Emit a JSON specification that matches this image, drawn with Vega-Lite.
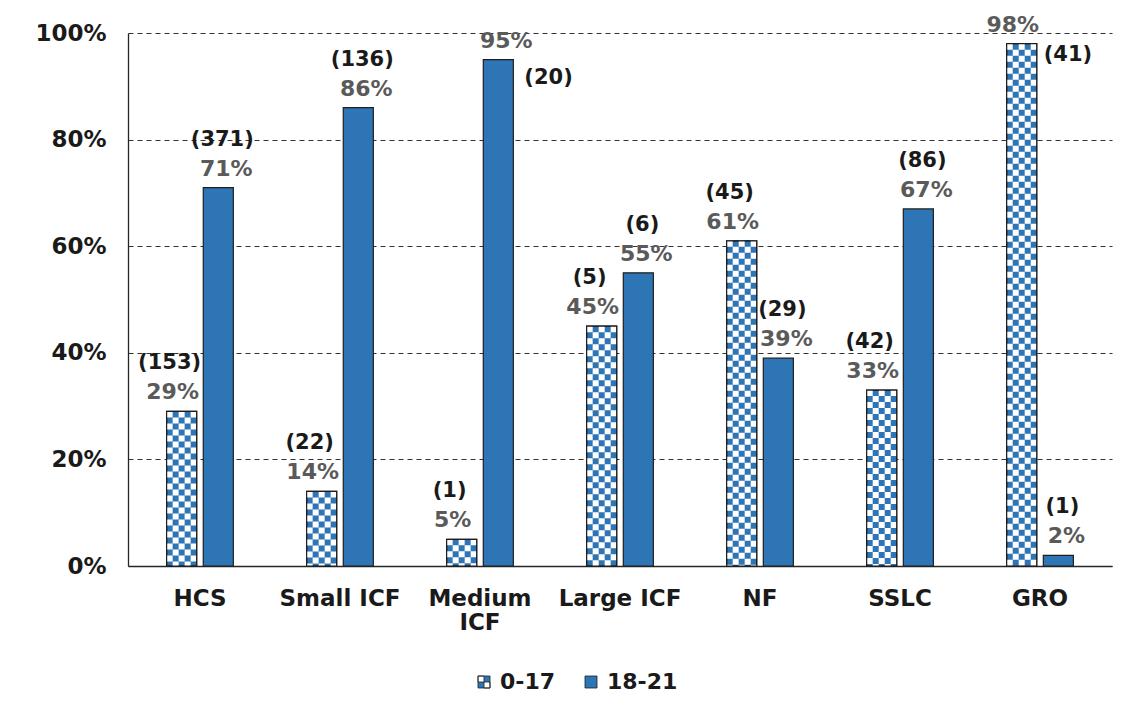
{
  "$schema": "https://vega.github.io/schema/vega-lite/v6.json",
  "width": 984,
  "height": 533,
  "autosize": {"type": "none"},
  "padding": {"left": 128, "top": 33, "right": 18, "bottom": 153},
  "background": "white",
  "config": {
    "view": {"stroke": null},
    "font": "DejaVu Sans",
    "text": {"font": "DejaVu Sans", "fontWeight": "bold", "fontSize": 21, "baseline": "middle"}
  },
  "data": {
    "values": [
      {"cat": "HCS", "series": "0-17", "pct": 0.29, "n": 153},
      {"cat": "HCS", "series": "18-21", "pct": 0.71, "n": 371},
      {"cat": "Small ICF", "series": "0-17", "pct": 0.14, "n": 22},
      {"cat": "Small ICF", "series": "18-21", "pct": 0.86, "n": 136},
      {"cat": "Medium ICF", "series": "0-17", "pct": 0.05, "n": 1},
      {"cat": "Medium ICF", "series": "18-21", "pct": 0.95, "n": 20},
      {"cat": "Large ICF", "series": "0-17", "pct": 0.45, "n": 5},
      {"cat": "Large ICF", "series": "18-21", "pct": 0.55, "n": 6},
      {"cat": "NF", "series": "0-17", "pct": 0.61, "n": 45},
      {"cat": "NF", "series": "18-21", "pct": 0.39, "n": 29},
      {"cat": "SSLC", "series": "0-17", "pct": 0.33, "n": 42},
      {"cat": "SSLC", "series": "18-21", "pct": 0.67, "n": 86},
      {"cat": "GRO", "series": "0-17", "pct": 0.98, "n": 41},
      {"cat": "GRO", "series": "18-21", "pct": 0.02, "n": 1}
    ]
  },
  "layer": [
    {
      "mark": {"type": "bar", "stroke": "#1e1e1e", "strokeWidth": 1.2},
      "encoding": {
        "x": {
          "field": "cat", "type": "nominal", "sort": null, "title": null,
          "scale": {"domain": ["HCS", "Small ICF", "Medium ICF", "Large ICF", "NF", "SSLC", "GRO"], "paddingInner": 0, "paddingOuter": 0.014},
          "axis": {
            "title": null, "labelAngle": 0, "ticks": false, "domainColor": "#262626", "domainWidth": 1.3,
            "labelPadding": 21, "labelFont": "DejaVu Sans", "labelFontWeight": "bold", "labelFontSize": 23,
            "labelColor": "#1a1a1a", "labelOverlap": false, "labelLineHeight": 24,
            "labelExpr": "datum.label == 'Medium ICF' ? ['Medium', 'ICF'] : datum.label"
          }
        },
        "xOffset": {"field": "series", "type": "nominal", "scale": {"paddingInner": 0.18, "paddingOuter": 1.0}},
        "y": {
          "field": "pct", "type": "quantitative", "title": null, "scale": {"domain": [0, 1]},
          "axis": {
            "title": null, "values": [0, 0.2, 0.4, 0.6, 0.8, 1], "format": ".0%", "ticks": false,
            "domainColor": "#262626", "domainWidth": 1.3, "labelPadding": 22,
            "labelFont": "DejaVu Sans", "labelFontWeight": "bold", "labelFontSize": 23, "labelColor": "#1a1a1a",
            "grid": true, "gridDash": [5, 4], "gridColor": "#333333", "gridWidth": 1.2
          }
        },
        "fill": {
          "field": "series", "type": "nominal",
          "scale": {"domain": ["0-17", "18-21"], "range": ["#2e75b6", "#2e75b6"]},
          "legend": {
            "title": null, "orient": "none", "legendX": 345, "legendY": 638, "direction": "horizontal",
            "padding": 0, "symbolType": "square", "symbolSize": 144, "symbolStrokeColor": "#1e1e1e",
            "symbolStrokeWidth": 1, "labelFont": "DejaVu Sans", "labelFontWeight": "bold", "labelFontSize": 22,
            "labelColor": "#1a1a1a", "labelOffset": 5, "columnPadding": 24,
            "encode": {
              "symbols": {
                "update": {
                  "stroke": {"value": "#1e1e1e"},
                  "strokeWidth": {"value": 0.8},
                  "opacity": {"value": 1},
                  "shape": {"signal": "datum.value === '0-17' ? 'M-1,-1H1V1H-1ZM-1,-1V0H0V-1ZM0,0V1H1V0Z' : 'square'"}
                }
              }
            }
          }
        }
      }
    },
    {
      "transform": [{"filter": "datum.series == '0-17'"}],
      "mark": {"type": "rule", "stroke": "#ffffff", "strokeWidth": 6, "strokeDash": [6, 6], "strokeDashOffset": 0, "xOffset": -12},
      "encoding": {
        "x": {"field": "cat", "type": "nominal", "sort": null, "title": null, "bandPosition": 0.3691},
        "y": {"field": "pct", "type": "quantitative", "title": null},
        "y2": {"datum": 0}
      }
    },
    {
      "transform": [{"filter": "datum.series == '0-17'"}],
      "mark": {"type": "rule", "stroke": "#ffffff", "strokeWidth": 6, "strokeDash": [6, 6], "strokeDashOffset": 6, "xOffset": -6},
      "encoding": {
        "x": {"field": "cat", "type": "nominal", "sort": null, "title": null, "bandPosition": 0.3691},
        "y": {"field": "pct", "type": "quantitative", "title": null},
        "y2": {"datum": 0}
      }
    },
    {
      "transform": [{"filter": "datum.series == '0-17'"}],
      "mark": {"type": "rule", "stroke": "#ffffff", "strokeWidth": 6, "strokeDash": [6, 6], "strokeDashOffset": 0, "xOffset": 0},
      "encoding": {
        "x": {"field": "cat", "type": "nominal", "sort": null, "title": null, "bandPosition": 0.3691},
        "y": {"field": "pct", "type": "quantitative", "title": null},
        "y2": {"datum": 0}
      }
    },
    {
      "transform": [{"filter": "datum.series == '0-17'"}],
      "mark": {"type": "rule", "stroke": "#ffffff", "strokeWidth": 6, "strokeDash": [6, 6], "strokeDashOffset": 6, "xOffset": 6},
      "encoding": {
        "x": {"field": "cat", "type": "nominal", "sort": null, "title": null, "bandPosition": 0.3691},
        "y": {"field": "pct", "type": "quantitative", "title": null},
        "y2": {"datum": 0}
      }
    },
    {
      "transform": [{"filter": "datum.series == '0-17'"}],
      "mark": {"type": "rule", "stroke": "#ffffff", "strokeWidth": 6, "strokeDash": [6, 6], "strokeDashOffset": 0, "xOffset": 12},
      "encoding": {
        "x": {"field": "cat", "type": "nominal", "sort": null, "title": null, "bandPosition": 0.3691},
        "y": {"field": "pct", "type": "quantitative", "title": null},
        "y2": {"datum": 0}
      }
    },
    {
      "transform": [{"filter": "datum.series == '0-17'"}],
      "mark": {"type": "bar", "fillOpacity": 0, "stroke": "#1e1e1e", "strokeWidth": 1.2},
      "encoding": {
        "x": {"field": "cat", "type": "nominal", "sort": null, "title": null},
        "xOffset": {"field": "series", "type": "nominal"},
        "y": {"field": "pct", "type": "quantitative", "title": null}
      }
    },
    {
      "transform": [{"filter": "datum.series == '0-17'"}],
      "mark": {"type": "text", "color": "#5a5a5a", "fontSize": 22, "dx": -9, "dy": -19},
      "encoding": {
        "x": {"field": "cat", "type": "nominal", "sort": null, "title": null, "bandPosition": 0.3691},
        "y": {"field": "pct", "type": "quantitative", "title": null},
        "text": {"field": "pct", "type": "quantitative", "format": ".0%"}
      }
    },
    {
      "transform": [{"filter": "datum.series == '18-21'"}],
      "mark": {"type": "text", "color": "#5a5a5a", "fontSize": 22, "dx": 8, "dy": -19},
      "encoding": {
        "x": {"field": "cat", "type": "nominal", "sort": null, "title": null, "bandPosition": 0.6309},
        "y": {"field": "pct", "type": "quantitative", "title": null},
        "text": {"field": "pct", "type": "quantitative", "format": ".0%"}
      }
    },
    {
      "transform": [{"filter": "datum.series == '0-17' && datum.cat != 'GRO'"}],
      "mark": {"type": "text", "color": "#1a1a1a", "dx": -12, "dy": -48, "text": {"expr": "'(' + datum.n + ')'"}},
      "encoding": {
        "x": {"field": "cat", "type": "nominal", "sort": null, "title": null, "bandPosition": 0.3691},
        "y": {"field": "pct", "type": "quantitative", "title": null}
      }
    },
    {
      "transform": [{"filter": "datum.series == '18-21' && datum.cat != 'Medium ICF'"}],
      "mark": {"type": "text", "color": "#1a1a1a", "dx": 4, "dy": -48, "text": {"expr": "'(' + datum.n + ')'"}},
      "encoding": {
        "x": {"field": "cat", "type": "nominal", "sort": null, "title": null, "bandPosition": 0.6309},
        "y": {"field": "pct", "type": "quantitative", "title": null}
      }
    },
    {
      "transform": [{"filter": "datum.series == '0-17' && datum.cat == 'GRO'"}],
      "mark": {"type": "text", "color": "#1a1a1a", "align": "left", "dx": 22, "dy": 11, "text": {"expr": "'(' + datum.n + ')'"}},
      "encoding": {
        "x": {"field": "cat", "type": "nominal", "sort": null, "title": null, "bandPosition": 0.3691},
        "y": {"field": "pct", "type": "quantitative", "title": null}
      }
    },
    {
      "transform": [{"filter": "datum.series == '18-21' && datum.cat == 'Medium ICF'"}],
      "mark": {"type": "text", "color": "#1a1a1a", "align": "left", "dx": 26, "dy": 18, "text": {"expr": "'(' + datum.n + ')'"}},
      "encoding": {
        "x": {"field": "cat", "type": "nominal", "sort": null, "title": null, "bandPosition": 0.6309},
        "y": {"field": "pct", "type": "quantitative", "title": null}
      }
    }
  ]
}
